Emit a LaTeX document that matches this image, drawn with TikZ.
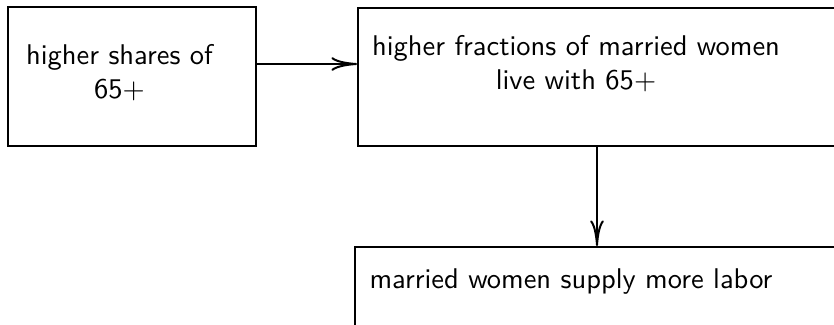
\documentclass[tikz,border=0pt]{standalone}
\usetikzlibrary{arrows.meta,fit}
\begin{document}
\begin{tikzpicture}[x=0.3509pt,y=-0.3509pt,font=\sffamily,
  box/.style={draw,line width=0.7pt,inner sep=0pt},
  lbl/.style={inner sep=0pt,align=center,anchor=north},
  arr/.style={line width=0.7pt,-{To[length=9pt,width=4.8pt]}}]
\path[use as bounding box] (0,0) rectangle (834,324);
\clip (0,0) rectangle (834,324);
\coordinate (b1a) at (8,7);
\coordinate (b1b) at (256,146);
\coordinate (b2a) at (358,8);
\coordinate (b2b) at (836,146);
\coordinate (b3a) at (355,247);
\coordinate (b3b) at (837,360);
\node[box,fit=(b1a)(b1b)] (box1) {};
\node[box,fit=(b2a)(b2b)] (box2) {};
\node[box,fit=(b3a)(b3b)] (box3) {};
\node[lbl] (t1) at (119.5,44) {higher shares of\\65$+$};
\node[lbl] (t2) at (576,34.5) {higher fractions of married women\\live with 65$+$};
\node[lbl] (t3) at (571,268) {married women supply more labor};
\coordinate (a1) at (256,64);
\draw[arr] (a1) -- (a1 -| box2.west);
\draw[arr] (box2.south) -- (box2.south |- box3.north);
\end{tikzpicture}
\end{document}
